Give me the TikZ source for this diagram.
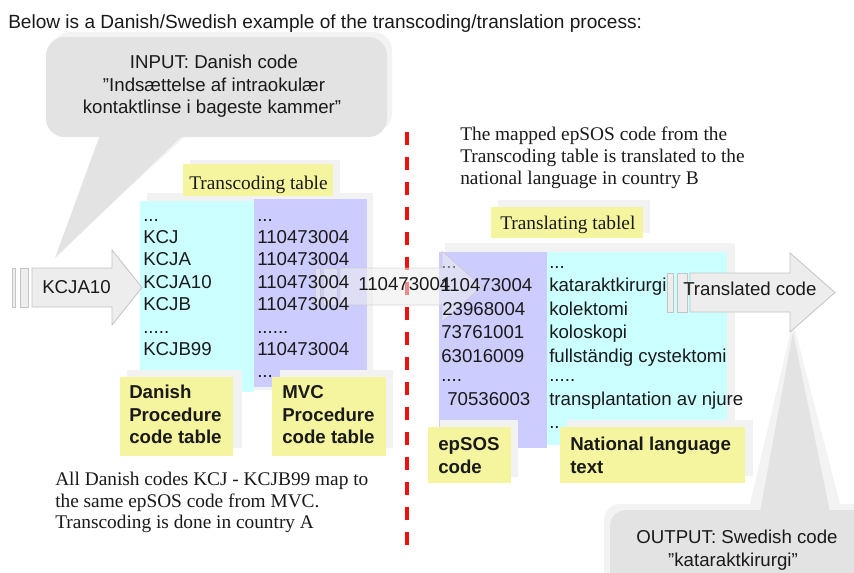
\documentclass[tikz,border=0pt]{standalone}
\usepackage{fontspec}
\setmainfont{Liberation Serif}
\setsansfont{Liberation Sans}
\definecolor{cy}{HTML}{CCFFFF}
\definecolor{pu}{HTML}{CCCCFF}
\definecolor{ye}{HTML}{F5F5A0}
\definecolor{callout}{HTML}{E3E3E3}
\definecolor{halo}{HTML}{F3F3F3}
\definecolor{shade}{HTML}{F2F2F2}
\definecolor{txt}{HTML}{1A1A1A}
\definecolor{arrline}{HTML}{C4C4C4}
\definecolor{arrfill}{HTML}{EDEDED}
\definecolor{redline}{HTML}{F01010}
\begin{document}
\begin{tikzpicture}[x=0.75pt,y=-0.75pt,
  sanstxt/.style={font=\sffamily\fontsize{14}{16}\selectfont, text=txt, inner sep=0pt, anchor=base west},
  sanscenter/.style={sanstxt, anchor=base},
  seriftxt/.style={font=\rmfamily\fontsize{14.5}{16}\selectfont, text=txt, inner sep=0pt, anchor=base west},
  boldtxt/.style={font=\sffamily\bfseries\fontsize{14}{16}\selectfont, text=txt, inner sep=0pt, anchor=base west},
  labelbox/.style={fill=ye},
  shadowbox/.style={fill=shade},
  blockarrow/.style={draw=arrline, line width=0.6pt, fill=arrfill},
]
\useasboundingbox (0,0) rectangle (854,572);
\fill[white] (0,0) rectangle (854,572);

% title
\node[sanstxt, font=\sffamily\fontsize{14.3}{16}\selectfont] (title) at (8,28) {Below is a Danish/Swedish example of the transcoding/translation process:};

% input callout
\fill[halo, rounded corners=14] (52,32) rectangle (392,132);
\fill[halo] (106,130) -- (192,130) -- (59,252) -- cycle;
\fill[callout, rounded corners=14] (46,37) rectangle (387,137);
\fill[callout] (100,135) -- (183,135) -- (55,258) -- cycle;
\node[sanscenter] (in1) at (214,68) {INPUT: Danish code};
\node[sanscenter] (in2) at (214,91) {"Indsættelse af intraokulær};
\node[sanscenter] (in3) at (212,113) {kontaktlinse i bageste kammer”};

% output callout
\fill[halo] (748,512) -- (793,322) -- (842,512) -- cycle;
\fill[halo, rounded corners=12] (604,504) rectangle (880,600);
\fill[callout] (760,512) -- (793,332) -- (830,512) -- cycle;
\fill[callout, rounded corners=12] (610,510) rectangle (880,600);
\node[sanscenter] (out1) at (737,543) {OUTPUT: Swedish code};
\node[sanscenter] (out2) at (733,566) {"kataraktkirurgi”};

% transcoding table
\fill[shadowbox] (147,193) rectangle (373,390);
\fill[shadowbox] (190,160) rectangle (340,200);
\fill[labelbox] (183,164) rectangle (333,196);
\node[seriftxt] (ttl) at (189,189) {Transcoding table};
\fill[cy] (140,201) rectangle (254,392);
\fill[pu] (254,199) rectangle (367,387);

% translating table
\fill[shadowbox] (445,243) rectangle (735,440);
\fill[shadowbox] (498,200) rectangle (650,233);
\fill[labelbox] (491,207) rectangle (643,238);
\node[seriftxt] (trl) at (500,229) {Translating tablel};
\fill[pu] (439,252) rectangle (547,448);
\fill[cy] (547,252) rectangle (727,445);

% right-hand explanation
\node[seriftxt] (r1) at (460,140) {The mapped epSOS code from the};
\node[seriftxt] (r2) at (460,162) {Transcoding table is translated to the};
\node[seriftxt] (r3) at (460,184) {national language in country B};

% red dashed divider
\coordinate (dtop) at (407,132);
\coordinate (dbot) at (407,556);
\draw[redline, line width=2.4pt, dash pattern=on 9.75pt off 9pt] (dtop) -- (dbot);

% input arrow
\draw[blockarrow] (12,268) rectangle (15,307);
\draw[blockarrow] (20,268) rectangle (28,307);
\draw[blockarrow] (32,268) -- (112,268) -- (112,250) -- (142,287.5) -- (112,325) -- (112,307) -- (32,307) -- cycle;
\node[sanstxt] (a1) at (42,293) {KCJA10};

% middle arrow (semi-transparent)
\begin{scope}[fill opacity=0.55, draw opacity=0.6]
\draw[blockarrow] (315,268) rectangle (320,305);
\draw[blockarrow] (323,268) rectangle (337,305);
\draw[blockarrow] (340,268) -- (442,268) -- (442,251) -- (482,286.5) -- (442,322) -- (442,305) -- (340,305) -- cycle;
\end{scope}

% right arrow
\draw[blockarrow] (667,273) rectangle (673,312);
\draw[blockarrow] (677,273) rectangle (687,312);
\draw[blockarrow] (690,273) -- (790,273) -- (790,253) -- (835,292.5) -- (790,332) -- (790,312) -- (690,312) -- cycle;
\node[sanstxt] (a3) at (683,295) {Translated code};

% transcoding columns text
\node[sanstxt] (c0) at (143,221) {...};
\node[sanstxt] (c1) at (143,243) {KCJ};
\node[sanstxt] (c2) at (143,265) {KCJA};
\node[sanstxt] (c3) at (143,288) {KCJA10};
\node[sanstxt] (c4) at (143,310) {KCJB};
\node[sanstxt] (c5) at (143,333) {.....};
\node[sanstxt] (c6) at (143,355) {KCJB99};
\node[sanstxt] (c7) at (143,377) {...};
\node[sanstxt] (m0) at (257,221) {...};
\node[sanstxt] (m1) at (257,243) {110473004};
\node[sanstxt] (m2) at (257,265) {110473004};
\node[sanstxt] (m3) at (257,288) {110473004};
\node[sanstxt] (m4) at (257,310) {110473004};
\node[sanstxt] (m5) at (257,333) {......};
\node[sanstxt] (m6) at (257,355) {110473004};
\node[sanstxt] (m7) at (257,377) {...};

% middle arrow text
\node[sanstxt] (a2) at (358,290) {110473004};

% translating columns text
\node[sanstxt, text=black!55] (e0) at (441,268) {...};
\node[sanstxt] (e1) at (440,291) {110473004};
\node[sanstxt] (e2) at (442,315) {23968004};
\node[sanstxt] (e3) at (441,338) {73761001};
\node[sanstxt] (e4) at (441,362) {63016009};
\node[sanstxt] (e5) at (441,381) {....};
\node[sanstxt] (e6) at (447,405) {70536003};
\node[sanstxt, text=black!55] (e7) at (441,428) {...};
\node[sanstxt] (n0) at (549,268) {...};
\node[sanstxt] (n1) at (549,291) {kataraktkirurgi};
\node[sanstxt] (n2) at (549,315) {kolektomi};
\node[sanstxt] (n3) at (549,338) {koloskopi};
\node[sanstxt] (n4) at (549,362) {fullständig cystektomi};
\node[sanstxt] (n5) at (549,381) {.....};
\node[sanstxt] (n6) at (549,405) {transplantation av njure};
\node[sanstxt] (n7) at (549,428) {..};

% bottom yellow labels
\fill[shadowbox] (127,370) rectangle (242,448);
\fill[labelbox] (120,377) rectangle (233,456);
\node[boldtxt] (d1) at (129,398) {Danish};
\node[boldtxt] (d2) at (129,421) {Procedure};
\node[boldtxt] (d3) at (129,443) {code table};
\fill[shadowbox] (280,370) rectangle (393,448);
\fill[labelbox] (272,377) rectangle (386,456);
\node[boldtxt] (v1) at (282,398) {MVC};
\node[boldtxt] (v2) at (282,421) {Procedure};
\node[boldtxt] (v3) at (282,443) {code table};
\fill[shadowbox] (440,420) rectangle (518,477);
\fill[labelbox] (428,427) rectangle (511,483);
\node[boldtxt] (s1) at (438,450) {epSOS};
\node[boldtxt] (s2) at (438,473) {code};
\fill[shadowbox] (567,420) rectangle (753,476);
\fill[labelbox] (560,427) rectangle (745,483);
\node[boldtxt] (l1) at (570,450) {National language};
\node[boldtxt] (l2) at (570,473) {text};

% bottom-left explanation
\node[seriftxt] (b1) at (55,485) {All Danish codes KCJ - KCJB99 map to};
\node[seriftxt] (b2) at (55,507) {the same epSOS code from MVC.};
\node[seriftxt] (b3) at (55,528) {Transcoding is done in country A};
\end{tikzpicture}
\end{document}
